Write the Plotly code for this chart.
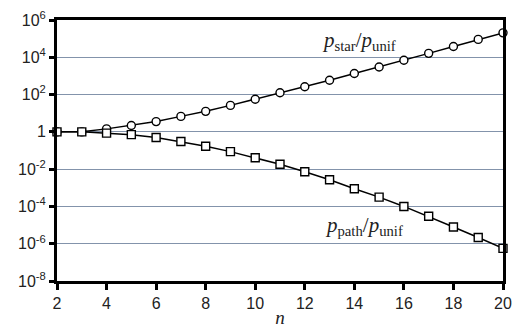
import plotly.graph_objects as go

n = list(range(2, 21))
log_star = [0.0, 0.0, 0.16, 0.34, 0.55, 0.83, 1.10, 1.42, 1.75, 2.10, 2.42, 2.77, 3.13, 3.48, 3.84, 4.21, 4.58, 4.96, 5.31]
log_path = [0.0, 0.0, -0.07, -0.15, -0.30, -0.52, -0.77, -1.06, -1.39, -1.74, -2.14, -2.57, -3.05, -3.50, -4.00, -4.53, -5.10, -5.67, -6.25]
p_star = [10 ** v for v in log_star]
p_path = [10 ** v for v in log_path]

y_tick_vals = [1e-8, 1e-6, 1e-4, 1e-2, 1, 1e2, 1e4, 1e6]
y_tick_text = ["10<sup>-8</sup>", "10<sup>-6</sup>", "10<sup>-4</sup>", "10<sup>-2</sup>", "1",
               "10<sup>2</sup>", "10<sup>4</sup>", "10<sup>6</sup>"]
x_tick_vals = [2, 4, 6, 8, 10, 12, 14, 16, 18, 20]

fig = go.Figure()
fig.add_trace(go.Scatter(
    x=n, y=p_star, mode="lines+markers", cliponaxis=False,
    line=dict(color="black", width=1.5),
    marker=dict(symbol="circle", size=8, color="white", line=dict(color="black", width=1.4)),
    showlegend=False))
fig.add_trace(go.Scatter(
    x=n, y=p_path, mode="lines+markers", cliponaxis=False,
    line=dict(color="black", width=1.5),
    marker=dict(symbol="square", size=8, color="white", line=dict(color="black", width=1.4)),
    showlegend=False))

fig.add_annotation(x=14.2, y=4.9, xref="x", yref="y", showarrow=False,
                   text="<i>p</i><sub>star</sub>/<i>p</i><sub>unif</sub>",
                   font=dict(family="Liberation Serif", size=21, color="#222"))
fig.add_annotation(x=14.4, y=-5.03, xref="x", yref="y", showarrow=False,
                   text="<i>p</i><sub>path</sub>/<i>p</i><sub>unif</sub>",
                   font=dict(family="Liberation Serif", size=21, color="#222"))

fig.update_layout(
    width=520, height=334,
    margin=dict(l=57, r=8, t=20, b=52),
    paper_bgcolor="white", plot_bgcolor="white",
    font=dict(family="Liberation Sans", size=16, color="#222"),
    xaxis=dict(range=[2, 20], tickvals=x_tick_vals, showgrid=False, zeroline=False,
               showline=True, linecolor="black", linewidth=3, mirror=True,
               ticks="outside", ticklen=6, tickwidth=2.5, tickcolor="black",
               title=dict(text="<i>n</i>", font=dict(family="Liberation Serif", size=19), standoff=0)),
    yaxis=dict(type="log", range=[-8, 6], tickvals=y_tick_vals, ticktext=y_tick_text,
               showgrid=True, gridcolor="#8393ab", gridwidth=1.2, zeroline=False,
               showline=True, linecolor="black", linewidth=3, mirror=True,
               ticks="outside", ticklen=5, tickwidth=2.5, tickcolor="black"),
)

fig.write_html("out.html")
